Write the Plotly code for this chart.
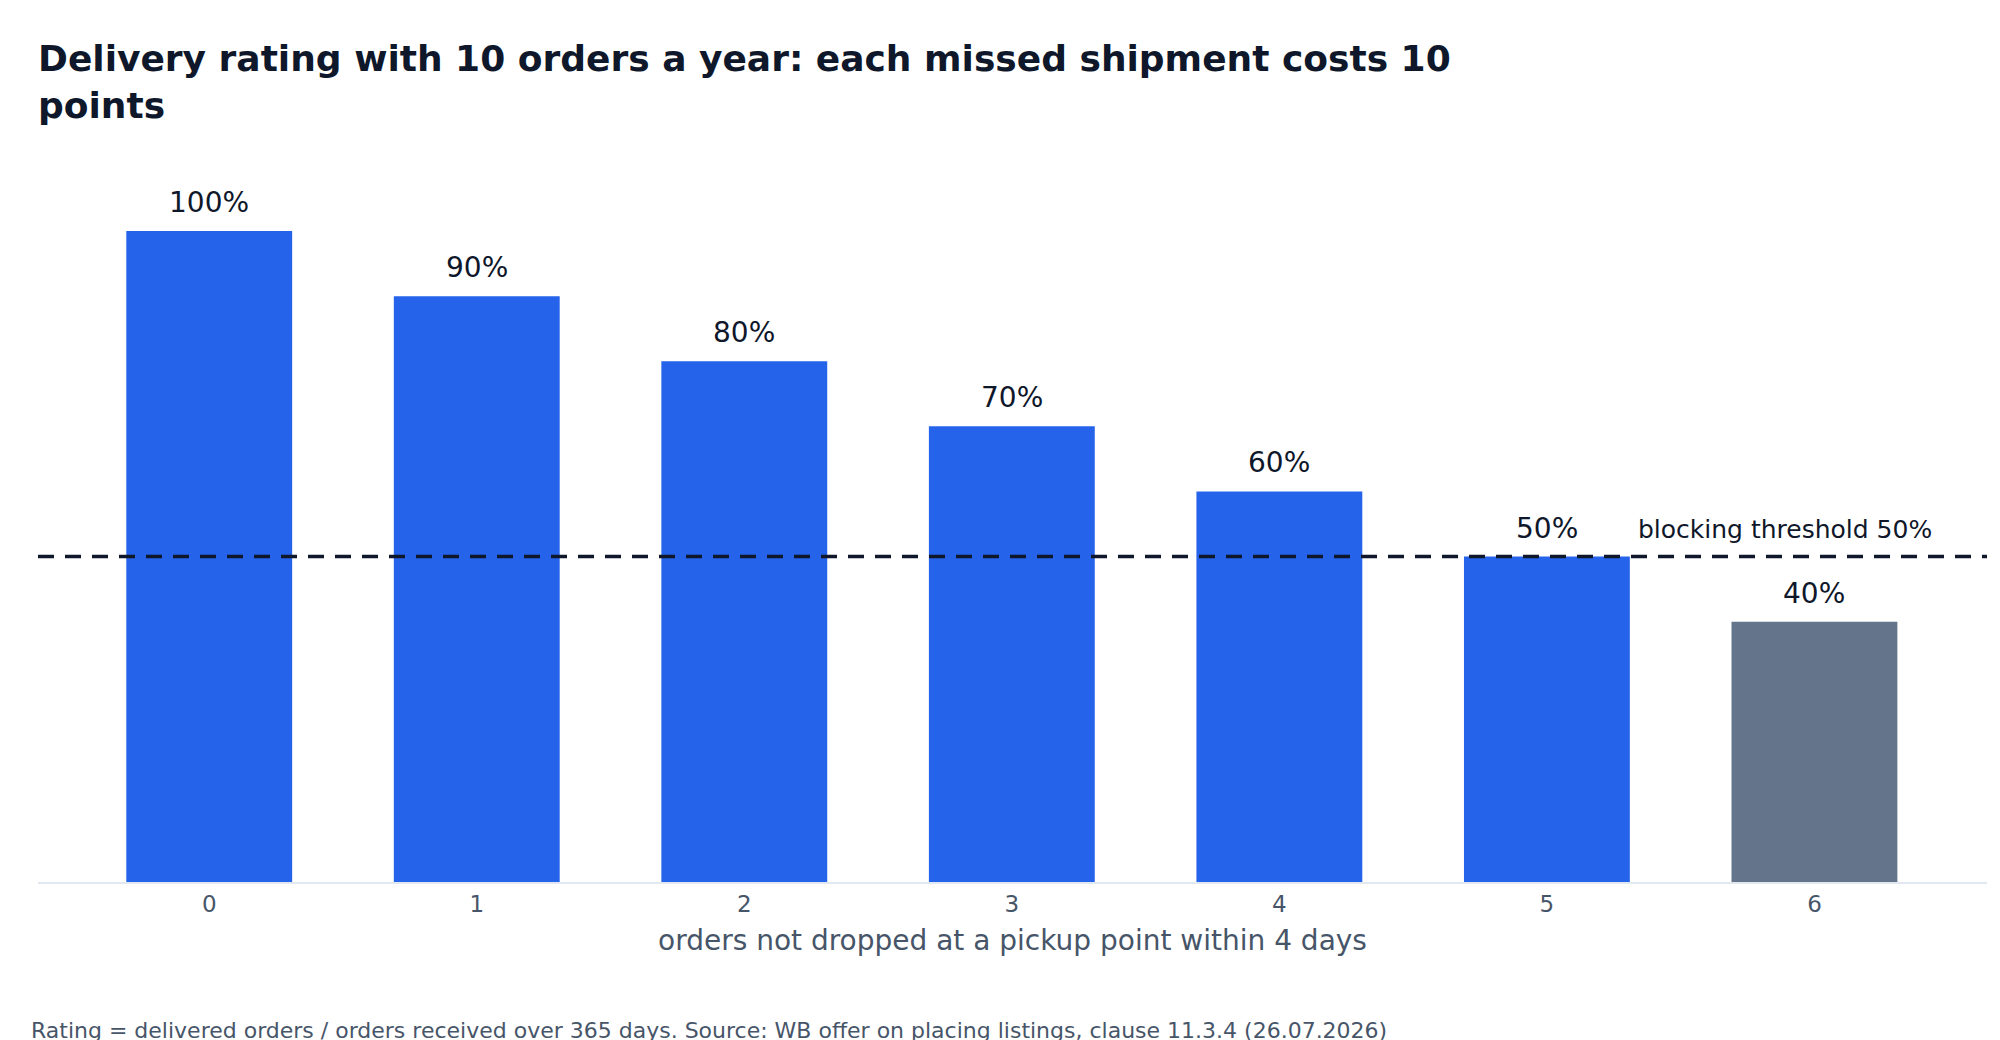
import plotly.graph_objects as go

missed_orders = [0, 1, 2, 3, 4, 5, 6]
rating_pct = [100, 90, 80, 70, 60, 50, 40]
threshold_pct = 50

bar_colors = ["#2563eb" if v >= threshold_pct else "#64748b" for v in rating_pct]
bar_labels = [f"{v}%" for v in rating_pct]

fig = go.Figure()
fig.add_trace(go.Bar(
    x=missed_orders, y=rating_pct,
    marker=dict(color=bar_colors, line=dict(width=0)),
    hoverinfo="skip",
))

# value labels above the bars
for m, v, lab in zip(missed_orders, rating_pct, bar_labels):
    fig.add_annotation(
        x=m, y=v, xref="x", yref="y", text=lab, showarrow=False,
        yanchor="bottom", yshift=10,
        font=dict(size=28, color="#0f172a"),
    )

fig.add_hline(y=threshold_pct, line=dict(color="#0f172a", width=3.5, dash="16px,11px"))
fig.add_annotation(
    x=0.973, xref="paper", y=threshold_pct, yref="y",
    xanchor="right", yanchor="bottom", yshift=11,
    text="blocking threshold 50%", showarrow=False,
    font=dict(size=25, color="#0f172a"),
)
fig.add_annotation(
    x=-0.0046, xref="paper", y=-0.208, yref="paper",
    xanchor="left", yanchor="middle",
    text="Rating = delivered orders / orders received over 365 days. Source: WB offer on placing listings, clause 11.3.4 (26.07.2026)",
    showarrow=False, font=dict(size=22, color="#475569"),
)

fig.update_layout(
    width=2000, height=1040,
    margin=dict(l=30, r=21, t=158, b=166),
    paper_bgcolor="white", plot_bgcolor="white",
    font=dict(family="DejaVu Sans", color="#0f172a"),
    title=dict(
        text="<b>Delivery rating with 10 orders a year: each missed shipment costs 10<br>points</b>",
        x=0.015, xanchor="left", xref="container",
        y=0.939, yanchor="top",
        font=dict(size=36, color="#0f172a"),
    ),
    bargap=0.38,
    showlegend=False,
)
fig.update_xaxes(
    range=[-0.64, 6.645], tickmode="array", tickvals=missed_orders,
    ticktext=[str(m) for m in missed_orders],
    showgrid=False, zeroline=False,
    showline=True, linecolor="#e2e8f0", linewidth=2,
    ticks="", tickfont=dict(size=23, color="#475569"),
    title=dict(text="orders not dropped at a pickup point within 4 days",
               font=dict(size=28, color="#475569"), standoff=15),
)
fig.update_yaxes(range=[0, 110], visible=False, showgrid=False, zeroline=False)

fig.write_html("out.html")
